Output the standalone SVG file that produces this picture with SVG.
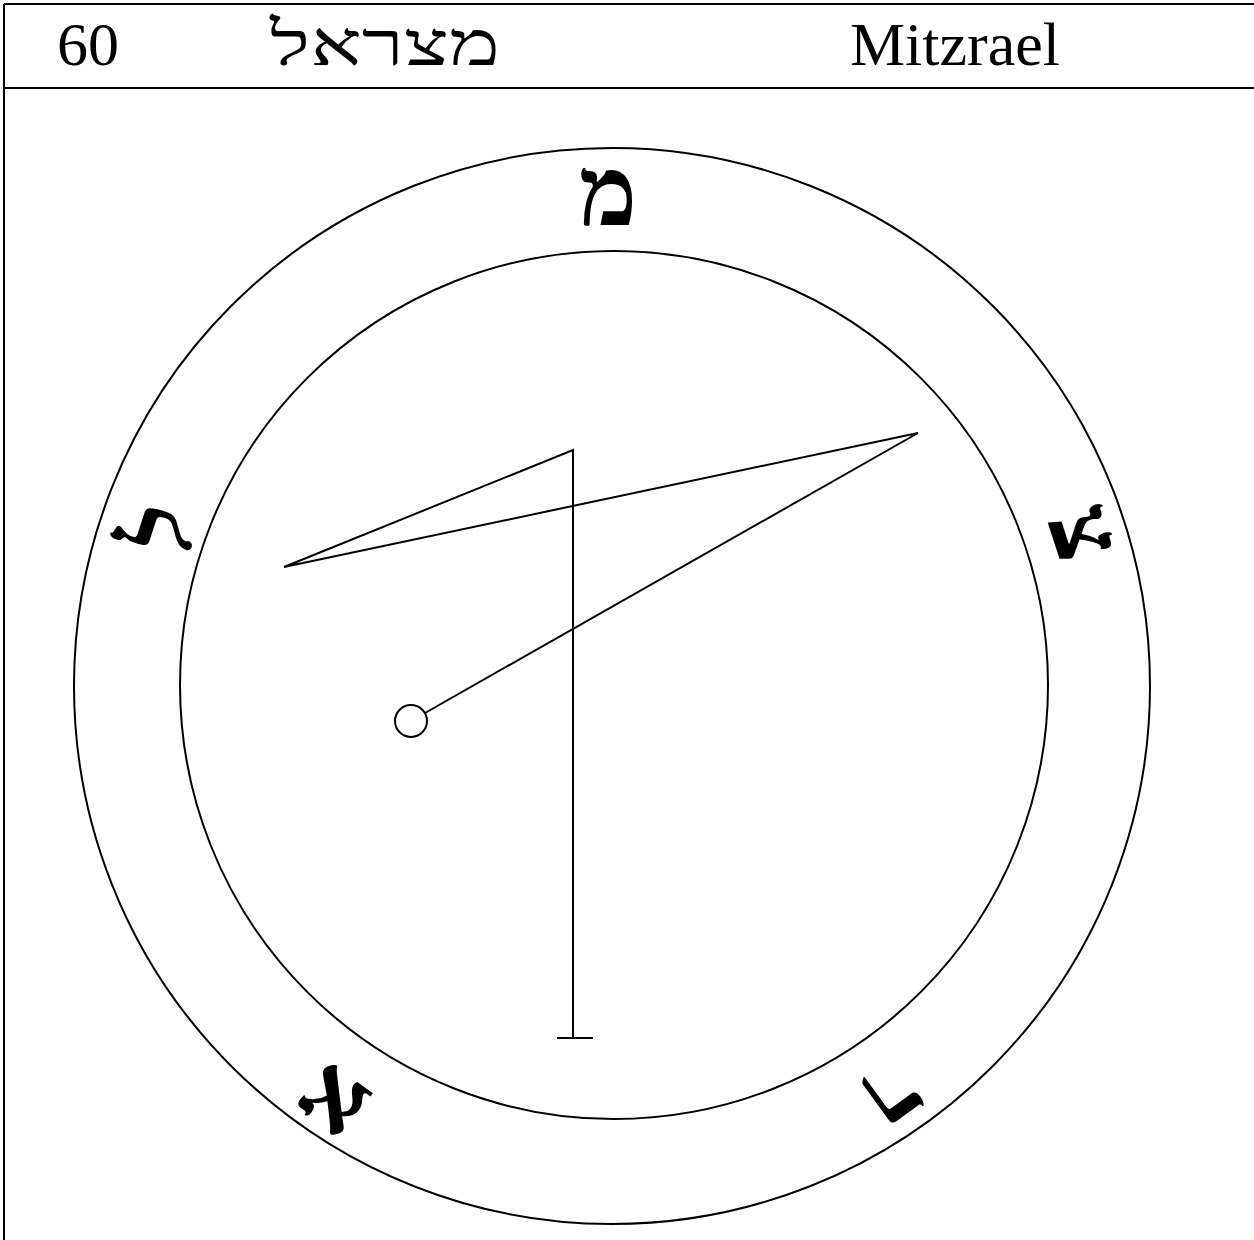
<svg xmlns="http://www.w3.org/2000/svg" width="1254" height="1240" viewBox="0 0 1254 1240">
<style>
.hdr{font-family:"Liberation Serif","Times New Roman",serif;font-size:62px;fill:#000}
.ring{font-family:"Liberation Serif","DejaVu Serif",serif;font-size:98px;font-weight:bold;fill:#000;text-anchor:middle}
.ln{stroke:#000;stroke-width:2;fill:none}
</style>
<rect width="1254" height="1240" fill="#fff"/>
<g id="frame">
<line class="ln" x1="4" y1="4" x2="1254" y2="4" stroke-width="3"/>
<line class="ln" x1="4" y1="4" x2="4" y2="1240"/>
<line class="ln" x1="4" y1="88" x2="1254" y2="88" stroke-width="3"/>
</g>
<g id="header">
<text class="hdr" x="57" y="65">60</text>
<text class="hdr" x="385" y="65" text-anchor="middle" direction="rtl" font-size="66" textLength="230" lengthAdjust="spacingAndGlyphs">מצראל</text>
<text class="hdr" x="955" y="65" text-anchor="middle">Mitzrael</text>
</g>
<g id="circles">
<circle class="ln" cx="612" cy="686" r="538"/>
<circle class="ln" cx="614" cy="685" r="434"/>
</g>
<g id="letters">
<text class="ring" transform="translate(612,686) rotate(0) translate(-4,-461)">מ</text>
<text class="ring" transform="translate(612,686) rotate(72) translate(0,-465)">צ</text>
<text class="ring" transform="translate(612,686) rotate(144) translate(15,-465)">ר</text>
<text class="ring" transform="translate(612,686) rotate(216) translate(-19,-470)">א</text>
<text class="ring" transform="translate(612,686) rotate(288) translate(10,-444)">ל</text>
</g>
<g id="connectors">
<polyline class="ln" points="425,713 918,433 284,567 573,450 573,1038"/>
<line class="ln" x1="557" y1="1038" x2="593" y2="1038"/>
</g>
<g id="node-start">
<circle class="ln" cx="411" cy="721" r="16"/>
</g>
</svg>
